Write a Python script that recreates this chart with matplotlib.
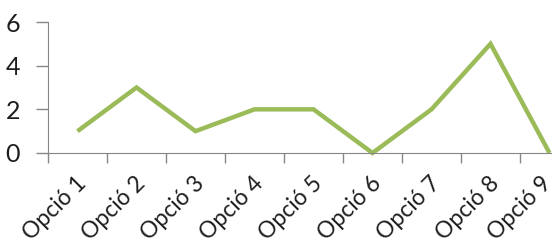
import matplotlib.pyplot as plt
import matplotlib.transforms as mtransforms
import numpy as np

# Data
categories = ['Opció 1', 'Opció 2', 'Opció 3', 'Opció 4', 'Opció 5',
              'Opció 6', 'Opció 7', 'Opció 8', 'Opció 9']
values = [1, 3, 1, 2, 2, 0, 2, 5, 0]

plt.rcParams['font.family'] = ['Lato', 'DejaVu Sans']

fig = plt.figure(figsize=(5.52, 2.45), dpi=100)
# right part of the plot area runs past the figure edge, as in the original
ax = fig.add_axes([48 / 552, 92 / 245, 531 / 552, 131 / 245])

x = np.arange(len(categories))
ax.plot(x, values, color='#9BBB59', linewidth=3.2, clip_on=False,
        solid_joinstyle='miter', solid_capstyle='butt')

ax.set_xlim(-0.5, len(categories) - 0.5)
ax.set_ylim(0, 6)
ax.set_yticks([0, 2, 4, 6])

ax.set_xticks(x)
ax.set_xticklabels(categories, rotation=45, ha='right', rotation_mode='anchor')
ax.set_xticks(np.arange(len(categories) + 1) - 0.5, minor=True)
ax.tick_params(axis='x', which='major', length=0, pad=14.5, labelsize=16.5, labelcolor='#1e1e1e')
ax.tick_params(axis='x', which='minor', length=7, color='#868686', width=1)
ax.tick_params(axis='y', length=9, color='#868686', width=1, pad=11,
               labelsize=18, labelcolor='#1e1e1e')

# nudge labels a little left; the last one more so it stays inside the figure
labels = ax.get_xticklabels()
for i, lab in enumerate(labels):
    dx = -9 if i == len(labels) - 1 else -2
    off = mtransforms.ScaledTranslation(dx / 100, 0, fig.dpi_scale_trans)
    lab.set_transform(lab.get_transform() + off)

for s in ['top', 'right']:
    ax.spines[s].set_visible(False)
for s in ['left', 'bottom']:
    ax.spines[s].set_color('#868686')

plt.savefig('out.png', dpi=100)
